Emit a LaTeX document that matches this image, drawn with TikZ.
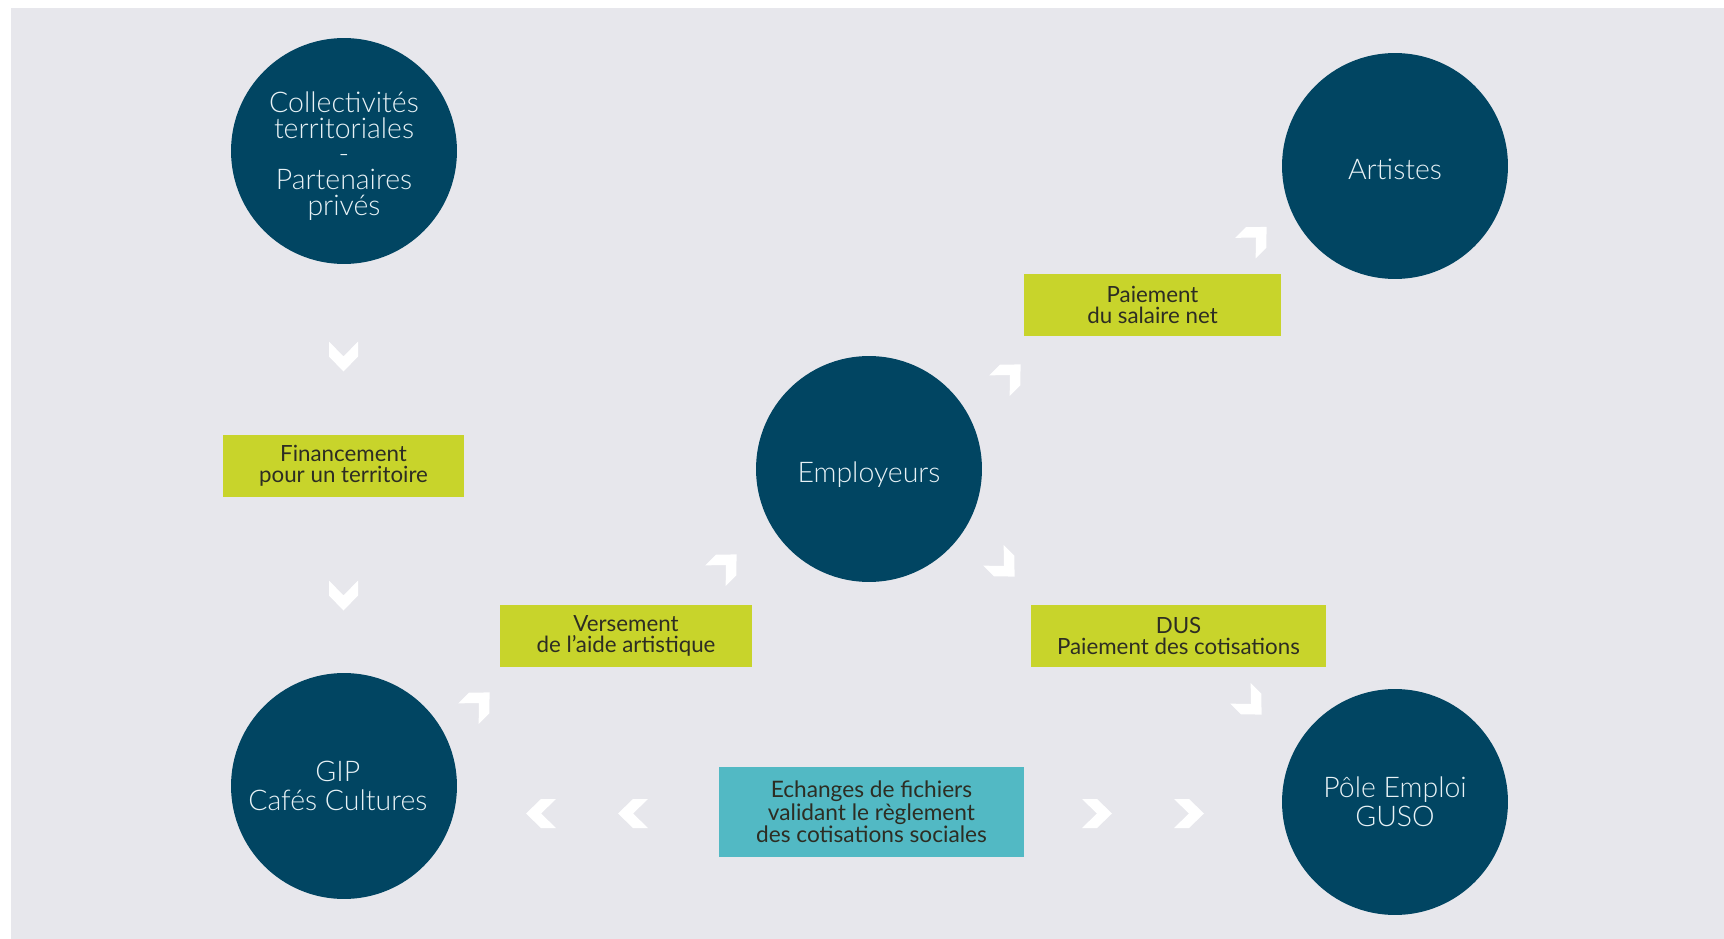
\documentclass[tikz,border=0pt]{standalone}
\usepackage{fontspec}
\setmainfont{Lato}
\newfontfamily\lightfont{Lato Light}
\usepackage{tikz}
\usetikzlibrary{positioning}

\definecolor{pagegray}{RGB}{231,231,236}
\definecolor{discblue}{RGB}{1,69,98}
\definecolor{disctext}{RGB}{232,242,246}
\definecolor{tagyellow}{RGB}{200,212,43}
\definecolor{tagteal}{RGB}{82,185,196}
\definecolor{tagtext}{RGB}{45,45,35}

\begin{document}
\begin{tikzpicture}[
    x=0.02cm, y=-0.02cm,
    disc/.style={
        circle,
        fill=discblue,
        minimum size=4.52cm,
        inner sep=0pt,
        align=center,
        text=disctext,
        font=\lightfont\fontsize{16.2}{16.6}\selectfont
    },
    tag/.style={
        rectangle,
        fill=tagyellow,
        minimum height=1.24cm,
        inner sep=0pt,
        align=center,
        text=tagtext,
        font=\fontsize{12.7}{12.2}\selectfont
    },
    chevron/.pic={
        \fill[white] (-15,-14.5) -- (0,-14.5) -- (15,0) -- (0,14.5)
            -- (-15,14.5) -- (0,0) -- cycle;
    }
]

% Canvas
\useasboundingbox (0,0) rectangle (1724,939);
\fill[white] (0,0) rectangle (1724,939);
\fill[pagegray] (11,8) rectangle (1724,939);

% Actors
\node[disc, font=\lightfont\fontsize{16.2}{14.6}\selectfont] at (344,151) (coll)
    {\rule{0pt}{17.4pt}Collectivités\\territoriales\\-\\Partenaires\\privés};
\node[disc] at (1395,166) (art)  {\rule{0pt}{15.1pt}Artistes};
\node[disc] at (869,469)  (empl) {\rule{0pt}{18.6pt}Employeurs};
\node[disc] at (344,786)  (gip)  {GIP\hspace*{7pt}\\Cafés Cultures\hspace*{7pt}};
\node[disc] at (1395,802) (pole) {Pôle Emploi\\GUSO};

% Flows
\node[tag, minimum width=4.82cm] at (343.5,466) (fin)  {Financement\\pour un territoire};
\node[tag, minimum width=5.14cm] at (1152.5,305) (sal) {Paiement\\du salaire net};
\node[tag, minimum width=5.04cm] at (626,636) (vers)   {Versement\\de l’aide artistique};
\node[tag, minimum width=5.9cm]  at (1178.5,636) (dus) {DUS\\Paiement des cotisations};
\node[tag, fill=tagteal, minimum width=6.1cm, minimum height=1.8cm,
      font=\fontsize{12.9}{12.8}\selectfont] at (871.5,812) (ech)
    {Echanges de fichiers\\validant le règlement\\des cotisations sociales};

% Chevrons — financement
\pic[rotate=-90] at (343.5,356.5) {chevron};
\pic[rotate=-90] at (343.5,595.5) {chevron};

% Chevrons — aide et salaire
\pic[rotate=45] at (479,703)    {chevron};
\pic[rotate=45] at (726,565)    {chevron};
\pic[rotate=45] at (1010,375)   {chevron};
\pic[rotate=45] at (1256,237.5) {chevron};

% Chevrons — cotisations
\pic[rotate=-45] at (1004,566) {chevron};
\pic[rotate=-45] at (1251,704) {chevron};

% Chevrons — echanges
\pic[rotate=180] at (541,813.5) {chevron};
\pic[rotate=180] at (633,813.5) {chevron};
\pic at (1097,813.5) {chevron};
\pic at (1189,813.5) {chevron};

\end{tikzpicture}
\end{document}
